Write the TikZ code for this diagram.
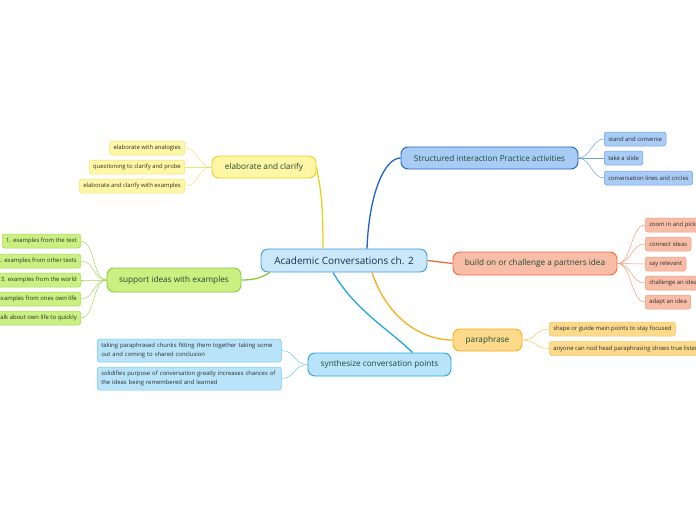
\documentclass[tikz,border=0pt]{standalone}
\usepackage{fontspec}
\setmainfont{Open Sans}
\usetikzlibrary{positioning}

\definecolor{ctrfill}{HTML}{CBE8FA}
\definecolor{ctrline}{HTML}{3F9DDD}
\definecolor{ctrtext}{HTML}{13304D}
\definecolor{brtext}{HTML}{1C4A34}
\definecolor{leaftext}{HTML}{2E2E2E}
\definecolor{elfill}{HTML}{FFF6A6}
\definecolor{elline}{HTML}{E6D21A}
\definecolor{elleaf}{HTML}{F0E27A}
\definecolor{spfill}{HTML}{C9F080}
\definecolor{spline}{HTML}{8DC63F}
\definecolor{spleaf}{HTML}{A9D65C}
\definecolor{syfill}{HTML}{B8E3F9}
\definecolor{syline}{HTML}{22A6E2}
\definecolor{syleaf}{HTML}{72C8EF}
\definecolor{stfill}{HTML}{A9CCF6}
\definecolor{stline}{HTML}{1F60C9}
\definecolor{stleaf}{HTML}{6F9FE6}
\definecolor{bdfill}{HTML}{F8BCA7}
\definecolor{bdline}{HTML}{F06A3A}
\definecolor{bdleaf}{HTML}{F29C7E}
\definecolor{pafill}{HTML}{FCD98B}
\definecolor{paline}{HTML}{F5AE1E}
\definecolor{paleaf}{HTML}{F7C862}

\tikzset{
  topic/.style={draw=ctrline, fill=ctrfill, rounded corners=7pt, line width=0.9pt,
    minimum width=166pt, minimum height=23pt, inner sep=0pt,
    font=\fontsize{10}{12}\selectfont, text=ctrtext},
  branch/.style 2 args={draw=#2, fill=#1, rounded corners=7pt, line width=0.9pt,
    minimum height=22pt, inner sep=0pt, font=\fontsize{8.2}{10}\selectfont, text=brtext},
  leaf/.style 2 args={draw=#2, fill=#1, rounded corners=2.5pt, line width=0.5pt,
    minimum height=14pt, inner xsep=4pt, inner ysep=0pt,
    font=\fontsize{5.9}{9}\selectfont, text=leaftext},
  limb/.style={line width=1.3pt, draw=#1},
  twig/.style={line width=0.5pt, draw=#1},
}

\begin{document}
\begin{tikzpicture}[x=1pt,y=-1pt]
  \useasboundingbox (0,0) rectangle (696,520);
  \clip (0,0) rectangle (696,520);

  % centre and main topics
  \node[topic] (ctr) at (344,260.5) {Academic Conversations ch. 2};
  \node[branch={elfill}{elline}, minimum width=104pt] (el) at (264,167) {elaborate and clarify};
  \node[branch={spfill}{spline}, minimum width=134pt, minimum height=24pt] (sup) at (174,280) {support ideas with examples};
  \node[branch={syfill}{syline}, minimum width=143pt, minimum height=23pt] (syn) at (379.5,364.5) {synthesize conversation points};
  \node[branch={stfill}{stline}, minimum width=177pt] (str) at (489.5,158) {Structured interaction Practice activities};
  \node[branch={bdfill}{bdline}, minimum width=164pt, minimum height=23pt] (bld) at (535,263.5) {build on or challenge a partners idea};
  \node[branch={pafill}{paline}, minimum width=69pt] (par) at (487.5,340) {paraphrase};

  \draw[limb=elline] ([xshift=-21pt]ctr.north) .. controls +(0,-50) and +(4,22) .. (el.east);
  \draw[limb=stline] ([xshift=23pt]ctr.north) .. controls +(2,-55) and +(-16,0) .. (str.west);
  \draw[limb=bdline] (ctr.east) -- (bld.west);
  \draw[limb=paline] ([xshift=28pt]ctr.south) .. controls +(15,45) and +(-32,0) .. (par.west);
  \draw[limb=syline] ([xshift=-11pt]ctr.south) .. controls +(22,38) and +(-22,-22) .. ([xshift=33pt]syn.north);
  \draw[limb=spline] ([xshift=-74pt]ctr.south) .. controls +(-10,6) and +(12,0) .. (sup.east);

  % elaborate and clarify
  \node[leaf={elfill}{elleaf}, anchor=east] (el1) at (185,148) {elaborate with analogies};
  \node[leaf={elfill}{elleaf}, anchor=east] (el2) at (185,167) {questioning to clarify and probe};
  \node[leaf={elfill}{elleaf}, anchor=east] (el3) at (185,186) {elaborate and clarify with examples};
  \foreach \n in {el1,el2,el3}
    \draw[twig=elleaf] (el.west) .. controls +(-14,0) and +(14,0) .. (\n.east);

  % support ideas with examples
  \node[leaf={spfill}{spleaf}, anchor=east] (sp1) at (81,241) {1. examples from the text};
  \node[leaf={spfill}{spleaf}, anchor=east] (sp2) at (81,261) {2. examples from other texts};
  \node[leaf={spfill}{spleaf}, anchor=east] (sp3) at (81,280) {3. examples from the world};
  \node[leaf={spfill}{spleaf}, anchor=east] (sp4) at (81,299) {4. examples from ones own life};
  \node[leaf={spfill}{spleaf}, anchor=east] (sp5) at (81,318) {talk about own life to quickly};
  \foreach \n in {sp1,sp2,sp3,sp4,sp5}
    \draw[twig=spleaf] (sup.west) .. controls +(-14,0) and +(14,0) .. (\n.east);

  % synthesize conversation points
  \node[leaf={syfill}{syleaf}, anchor=west, minimum width=184pt, minimum height=23pt,
    text width=176pt, align=left] (sy1) at (97,350.5)
    {taking paraphrased chunks fitting them together taking some\\out and coming to shared conclusion};
  \node[leaf={syfill}{syleaf}, anchor=west, minimum width=184pt, minimum height=23pt,
    text width=176pt, align=left] (sy2) at (97,378.5)
    {solidifies purpose of conversation greatly increases chances of\\the ideas being remembered and learned};
  \foreach \n in {sy1,sy2}
    \draw[twig=syleaf] (syn.west) .. controls +(-14,0) and +(14,0) .. (\n.east);

  % structured interaction
  \node[leaf={stfill}{stleaf}, anchor=west] (st1) at (604,139) {stand and converse};
  \node[leaf={stfill}{stleaf}, anchor=west] (st2) at (604,158) {take a slide};
  \node[leaf={stfill}{stleaf}, anchor=west] (st3) at (604,178) {conversation lines and circles};
  \foreach \n in {st1,st2,st3}
    \draw[twig=stleaf] (str.east) .. controls +(12,0) and +(-12,0) .. (\n.west);

  % build on or challenge
  \node[leaf={bdfill}{bdleaf}, anchor=west] (bd1) at (645,225) {zoom in and pick};
  \node[leaf={bdfill}{bdleaf}, anchor=west] (bd2) at (645,244) {connect ideas};
  \node[leaf={bdfill}{bdleaf}, anchor=west] (bd3) at (645,264) {say relevant};
  \node[leaf={bdfill}{bdleaf}, anchor=west] (bd4) at (645,283) {challenge an idea};
  \node[leaf={bdfill}{bdleaf}, anchor=west] (bd5) at (645,302) {adapt an idea};
  \foreach \n in {bd1,bd2,bd3,bd4,bd5}
    \draw[twig=bdleaf] (bld.east) .. controls +(14,0) and +(-14,0) .. (\n.west);

  % paraphrase
  \node[leaf={pafill}{paleaf}, anchor=west] (pa1) at (549,329) {shape or guide main points to stay focused};
  \node[leaf={pafill}{paleaf}, anchor=west] (pa2) at (549,348.5) {anyone can nod head paraphrasing shows true listening};
  \foreach \n in {pa1,pa2}
    \draw[twig=paleaf] (par.east) .. controls +(14,0) and +(-14,0) .. (\n.west);
\end{tikzpicture}
\end{document}
